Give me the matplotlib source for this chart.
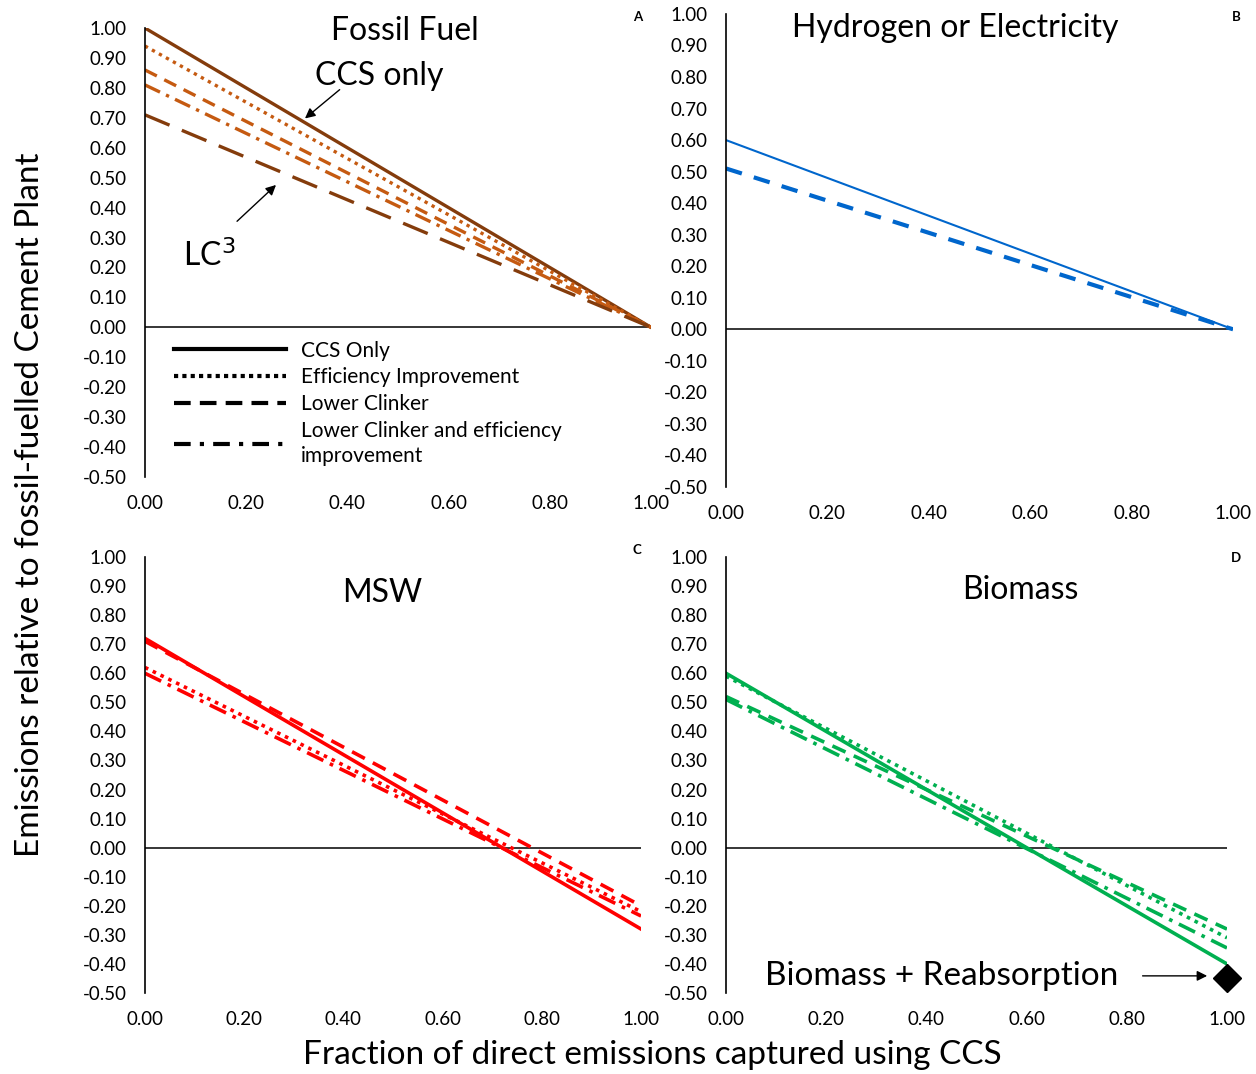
import numpy as np
import matplotlib.pyplot as plt
from matplotlib.lines import Line2D

plt.rcParams["font.family"] = ["Lato", "DejaVu Sans"]
plt.rcParams["font.size"] = 13

# capture fraction (lines are straight, so the two end points are enough)
x = np.array([0.0, 1.0])

# Panel A - fossil fuel
ff_ccs = np.array([1.00, 0.00])
ff_eff = np.array([0.94, 0.00])
ff_lc = np.array([0.86, 0.00])
ff_lc_eff = np.array([0.81, 0.00])
ff_lc3 = np.array([0.71, 0.00])

# Panel B - hydrogen or electricity
he_ccs = np.array([0.60, 0.00])
he_lc = np.array([0.51, 0.00])

# Panel C - MSW
msw_ccs = np.array([0.72, -0.28])
msw_lc = np.array([0.71, -0.20])
msw_eff = np.array([0.62, -0.22])
msw_lc_eff = np.array([0.60, -0.235])

# Panel D - biomass
bio_ccs = np.array([0.60, -0.40])
bio_eff = np.array([0.59, -0.31])
bio_lc = np.array([0.52, -0.28])
bio_lc_eff = np.array([0.51, -0.345])
bio_reabs = (1.0, -0.45)

ticks_x = np.arange(0, 1.01, 0.2)
ticks_y = np.round(np.arange(-0.5, 1.01, 0.1), 2)

brown = "#843C0C"
orange = "#C55A11"
blue = "#0066CC"
red = "#FF0000"
green = "#00B050"

dotted = (0, (1, 1.4))
dashed = (0, (4, 2.5))
dashdot = (0, (5, 2, 1, 2))
longdash = (0, (8, 4))


def fmt(v):
    s = f"{v:.2f}"
    return "0.00" if s == "-0.00" else s


fig = plt.figure(figsize=(12.56, 10.74), dpi=100)
axA = fig.add_axes([0.1154, 0.5559, 0.4029, 0.4180])
axB = fig.add_axes([0.5780, 0.5466, 0.4037, 0.4404])
axC = fig.add_axes([0.1154, 0.0754, 0.3950, 0.4060])
axD = fig.add_axes([0.5780, 0.0754, 0.3989, 0.4060])

for ax in (axA, axB, axC, axD):
    ax.set_xlim(0, 1)
    ax.set_ylim(-0.5, 1.0)
    ax.set_xticks(ticks_x)
    ax.set_yticks(ticks_y)
    ax.set_xticklabels([fmt(v) for v in ticks_x])
    ax.set_yticklabels([fmt(v) for v in ticks_y])
    ax.tick_params(length=0, pad=13, labelsize=13.5)
    for s in ("top", "right", "bottom"):
        ax.spines[s].set_visible(False)
    ax.spines["left"].set_linewidth(1.2)
    ax.axhline(0, color="black", lw=1.1, zorder=1)

# A
axA.plot(x, ff_ccs, color=brown, lw=2.4)
axA.plot(x, ff_eff, color=orange, lw=2.4, ls=dotted)
axA.plot(x, ff_lc, color=orange, lw=2.4, ls=dashed)
axA.plot(x, ff_lc_eff, color=orange, lw=2.4, ls=dashdot)
axA.plot(x, ff_lc3, color=brown, lw=2.4, ls=longdash)
axA.text(0.514, 0.99, "Fossil Fuel", fontsize=23, ha="center", va="center")
axA.text(0.464, 0.84, "CCS only", fontsize=23, ha="center", va="center")
axA.annotate("", xy=(0.312, 0.692), xytext=(0.389, 0.80),
             arrowprops=dict(arrowstyle="-|>", color="black", lw=1, mutation_scale=15))
axA.text(0.128, 0.24, "LC$^3$", fontsize=23, ha="center", va="center")
axA.annotate("", xy=(0.263, 0.482), xytext=(0.178, 0.348),
             arrowprops=dict(arrowstyle="-|>", color="black", lw=1, mutation_scale=15))

handles = [
    Line2D([], [], color="black", lw=3),
    Line2D([], [], color="black", lw=3, ls=(0, (1, 1))),
    Line2D([], [], color="black", lw=3, ls=(0, (4, 2.2))),
    Line2D([], [], color="black", lw=3, ls=(0, (4, 2.2, 1, 2.2))),
]
labels = ["CCS Only", "Efficiency Improvement", "Lower Clinker",
          "Lower Clinker and efficiency\nimprovement"]
leg = axA.legend(handles, labels, loc="upper left", bbox_to_anchor=(0.04, 0.322),
                 frameon=False, fontsize=15, handlelength=5.4, handletextpad=0.7,
                 labelspacing=0.32, borderaxespad=0)
for t in leg.get_texts():
    t.set_linespacing(1.35)

# B
axB.plot(x, he_ccs, color=blue, lw=1.5)
axB.plot(x, he_lc, color=blue, lw=3, ls=(0, (4, 3)))
axB.text(0.452, 0.956, "Hydrogen or Electricity", fontsize=23, ha="center", va="center")

# C
axC.plot(x, msw_ccs, color=red, lw=2.6)
axC.plot(x, msw_lc, color=red, lw=2.6, ls=dashed)
axC.plot(x, msw_eff, color=red, lw=2.6, ls=dotted)
axC.plot(x, msw_lc_eff, color=red, lw=2.6, ls=dashdot)
axC.text(0.478, 0.876, "MSW", fontsize=23, ha="center", va="center")

# D
axD.plot(x, bio_ccs, color=green, lw=2.6)
axD.plot(x, bio_eff, color=green, lw=2.6, ls=dotted)
axD.plot(x, bio_lc, color=green, lw=2.6, ls=dashed)
axD.plot(x, bio_lc_eff, color=green, lw=2.6, ls=dashdot)
axD.plot([bio_reabs[0]], [bio_reabs[1]], marker="D", color="black", ms=14,
         clip_on=False, zorder=5)
axD.text(0.587, 0.886, "Biomass", fontsize=23, ha="center", va="center")
axD.text(0.431, -0.441, "Biomass + Reabsorption", fontsize=24, ha="center", va="center")
axD.annotate("", xy=(0.966, -0.441), xytext=(0.826, -0.441),
             arrowprops=dict(arrowstyle="-|>", color="black", lw=1, mutation_scale=15))

# panel letters
for lab, px, py in [("A", 638, 17), ("B", 1236, 17), ("C", 637, 550), ("D", 1236, 558)]:
    fig.text(px / 1256, 1 - py / 1074, lab, fontsize=9.5, fontweight="bold",
             ha="center", va="center")

fig.text(652 / 1256, 1 - 1055 / 1074, "Fraction of direct emissions captured using CCS",
         fontsize=24, ha="center", va="center")
fig.text(30 / 1256, 1 - 505 / 1074, "Emissions relative to fossil-fuelled Cement Plant",
         fontsize=24, ha="center", va="center", rotation=90)

fig.savefig("out.png", dpi=100)
